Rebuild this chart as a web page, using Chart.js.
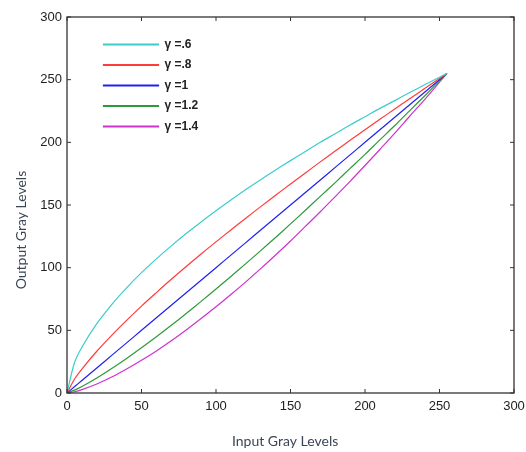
<!DOCTYPE html>
<html>
<head>
<meta charset="utf-8">
<script src="https://cdn.jsdelivr.net/npm/chart.js@4/dist/chart.umd.min.js"></script>
<style>
  html, body { margin: 0; padding: 0; background: #fff; }
  #wrap { width: 526px; height: 452px; }
</style>
</head>
<body>
<div id="wrap"><canvas id="gamma"></canvas></div>
<script>
/* ── Data ────────────────────────────────────────────────── */
const inputLevels = [0, 5, 10, 20, 30, 40, 50, 60, 70, 80, 90, 100, 110, 120, 130,
                     140, 150, 160, 170, 180, 190, 200, 210, 220, 230, 240, 250, 255];

const gamma06 = [0, 24.1, 36.5, 55.3, 70.6, 83.9, 96.0, 107.0, 117.4, 127.2, 136.5, 145.4, 153.9, 162.3, 170.2,
                 177.9, 185.4, 192.7, 200.0, 206.9, 213.8, 220.4, 227.1, 233.3, 239.7, 245.9, 252.0, 255];
const gamma08 = [0, 11.0, 19.1, 33.3, 46.0, 57.9, 69.3, 80.1, 90.7, 100.9, 110.9, 120.6, 130.1, 139.5, 148.7,
                 157.8, 166.7, 175.6, 184.4, 193.1, 201.6, 210.0, 218.4, 226.6, 234.8, 242.9, 251.0, 255];
const gamma10 = [0, 5, 10, 20, 30, 40, 50, 60, 70, 80, 90, 100, 110, 120, 130,
                 140, 150, 160, 170, 180, 190, 200, 210, 220, 230, 240, 250, 255];
const gamma12 = [0, 2.3, 5.2, 12.0, 19.6, 27.6, 36.1, 44.9, 54.0, 63.4, 73.1, 83.0, 93.0, 103.2, 113.6,
                 124.1, 134.9, 145.8, 156.9, 167.9, 179.2, 190.4, 202.0, 213.4, 225.3, 237.0, 249.0, 255];
const gamma14 = [0, 1.0, 2.7, 7.2, 12.7, 19.1, 26.1, 33.6, 41.7, 50.3, 59.4, 68.8, 78.6, 88.7, 99.2,
                 110.1, 121.3, 132.9, 144.6, 156.7, 168.9, 181.5, 194.3, 207.3, 220.8, 234.1, 248.0, 255];

const seriesLabels = ["\u03b3 =.6", "\u03b3 =.8", "\u03b3 =1", "\u03b3 =1.2", "\u03b3 =1.4"];
const seriesValues = [gamma06, gamma08, gamma10, gamma12, gamma14];
const seriesColors = ["#3ccccc", "#ff3b3b", "#2020f0", "#2e9a3a", "#cc33cc"];

const axisTicks = [0, 50, 100, 150, 200, 250, 300];

/* ── Frame + inward tick marks ───────────────────────────── */
const frame = {
  id: "frame",
  afterDraw(chart) {
    const { ctx, chartArea: a, scales: { x, y } } = chart;
    const len = 4;
    ctx.save();
    ctx.strokeStyle = "#333";
    ctx.lineWidth = 1.3;
    ctx.strokeRect(a.left, a.top, a.right - a.left, a.bottom - a.top);
    ctx.lineWidth = 1;
    ctx.beginPath();
    axisTicks.forEach(v => {
      const px = x.getPixelForValue(v);
      ctx.moveTo(px, a.bottom); ctx.lineTo(px, a.bottom - len);
      ctx.moveTo(px, a.top);    ctx.lineTo(px, a.top + len);
      const py = y.getPixelForValue(v);
      ctx.moveTo(a.left, py);   ctx.lineTo(a.left + len, py);
      ctx.moveTo(a.right, py);  ctx.lineTo(a.right - len, py);
    });
    ctx.stroke();
    ctx.restore();
  },
  afterLayout(chart) {
    // nudge the in-plot legend to where the reference has it
    const lg = chart.legend;
    if (!lg) return;
    const dx = 28, dy = 30;
    lg.left += dx; lg.right += dx;
    lg.top += dy;  lg.bottom += dy;
  },
};

const tickFont  = { family: "'Liberation Sans', Arial, sans-serif", size: 13 };
const titleFont = { family: "Lato, 'Open Sans', sans-serif", size: 14 };

new Chart(document.getElementById("gamma"), {
  type: "line",
  data: {
    labels: inputLevels,
    datasets: seriesValues.map((vals, i) => ({
      label: seriesLabels[i],
      data: vals.map((v, k) => ({ x: inputLevels[k], y: v })),
      borderColor: seriesColors[i],
      backgroundColor: seriesColors[i],
      borderWidth: 1.2,
      pointRadius: 0,
      tension: 0.3,
      fill: false,
    })),
  },
  options: {
    responsive: true,
    maintainAspectRatio: false,
    animation: false,
    layout: { padding: { left: 0, right: 12, top: 17, bottom: 0 } },
    plugins: {
      tooltip: { enabled: false },
      legend: {
        position: "chartArea",
        align: "start",
        labels: {
          boxWidth: 55,
          boxHeight: 1,
          padding: 8.5,
          color: "#222",
          font: { family: "'Liberation Sans', Arial, sans-serif", size: 12, weight: "bold" },
        },
      },
    },
    scales: {
      x: {
        type: "linear",
        min: 0, max: 300,
        afterFit: s => { s.height = 59; s.paddingRight = 0; s.paddingLeft = 0; },
        grid: { display: false, drawTicks: false },
        border: { display: false },
        ticks: { stepSize: 50, padding: 6, color: "#222", font: tickFont, maxRotation: 0 },
        title: {
          display: true,
          text: "Input Gray Levels\u00a0\u00a0\u00a0",
          color: "#3a4656",
          font: titleFont,
          padding: { top: 0, bottom: 2 },
        },
      },
      y: {
        type: "linear",
        min: 0, max: 300,
        afterFit: s => { s.width = 67; },
        grid: { display: false, drawTicks: false },
        border: { display: false },
        ticks: { stepSize: 50, padding: 5, color: "#222", font: tickFont },
        title: {
          display: true,
          text: "Output Gray Levels" + "\u00a0".repeat(14),
          color: "#3a4656",
          font: titleFont,
          padding: { top: 13, bottom: 0 },
        },
      },
    },
  },
  plugins: [frame],
});
</script>
</body>
</html>
